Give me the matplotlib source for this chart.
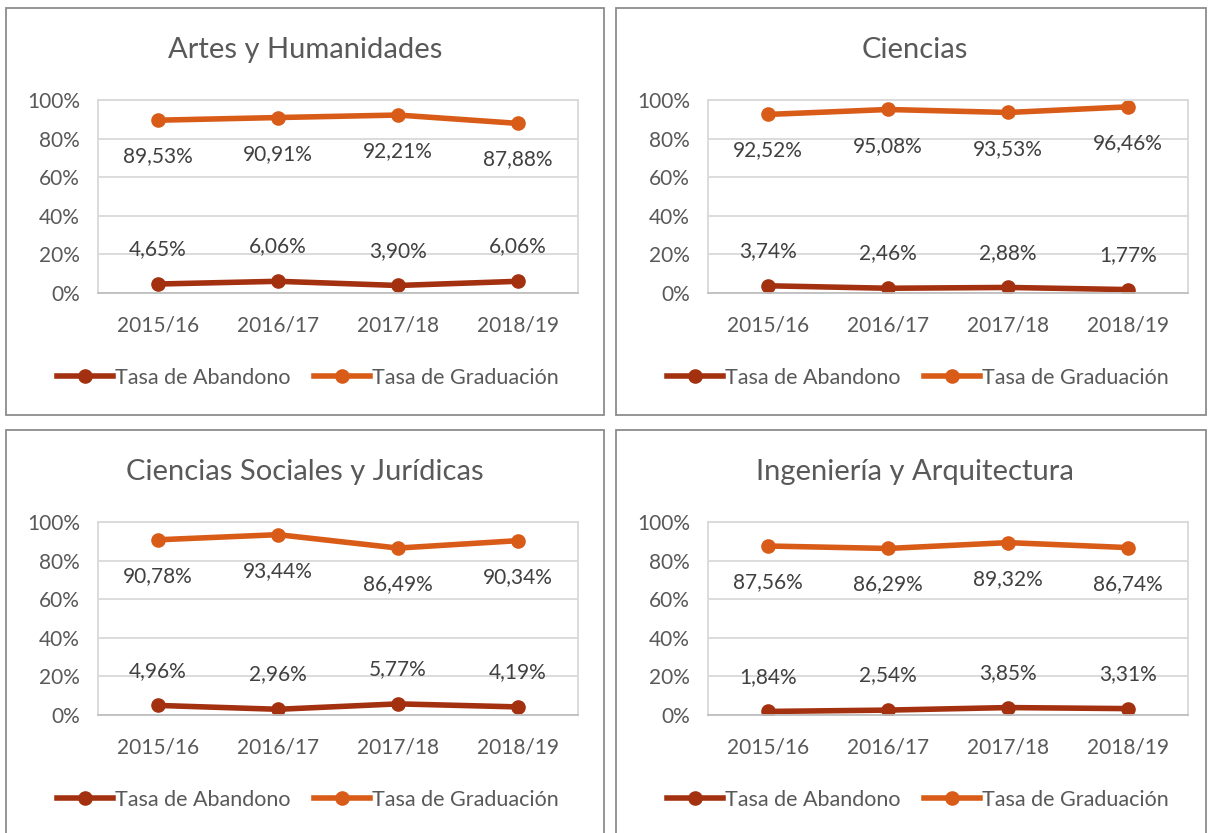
import matplotlib.pyplot as plt
from matplotlib.patches import Rectangle

plt.rcParams['font.family'] = ['Lato', 'DejaVu Sans']

years = ["2015/16", "2016/17", "2017/18", "2018/19"]
titles = ["Artes y Humanidades", "Ciencias",
          "Ciencias Sociales y Jurídicas", "Ingeniería y Arquitectura"]
abandono = [
    [4.65, 6.06, 3.90, 6.06],
    [3.74, 2.46, 2.88, 1.77],
    [4.96, 2.96, 5.77, 4.19],
    [1.84, 2.54, 3.85, 3.31],
]
graduacion = [
    [89.53, 90.91, 92.21, 87.88],
    [92.52, 95.08, 93.53, 96.46],
    [90.78, 93.44, 86.49, 90.34],
    [87.56, 86.29, 89.32, 86.74],
]

C_AB = '#A3300F'
C_GR = '#D95B18'
TXT = '#595959'

W, H = 1208, 833
fig = plt.figure(figsize=(W / 100, H / 100), dpi=100)

# panel origins in pixels (left, top)
offsets = [(0, 0), (610, 0), (0, 422), (610, 422)]

def fx(px):
    return px / W

def fy(py):
    return 1 - py / H

for i, (dx, dy) in enumerate(offsets):
    # panel border
    bx0, bx1 = 6 + dx, min(604 + dx, W - 2)
    by0, by1 = 8 + dy, min(415 + dy, H + 5)
    fig.patches.append(Rectangle((fx(bx0), fy(by1)), fx(bx1) - fx(bx0), fy(by0) - fy(by1),
                                 transform=fig.transFigure, fill=False,
                                 edgecolor='#8C8C8C', linewidth=1.3))
    # plot area
    px0, px1 = 98 + dx, 578 + dx
    py0, py1 = 100 + dy, 293 + dy
    ax = fig.add_axes([fx(px0), fy(py1), fx(px1) - fx(px0), fy(py0) - fy(py1)])
    x = range(len(years))
    ax.plot(x, abandono[i], color=C_AB, lw=4, marker='o', ms=9.5, label='Tasa de Abandono')
    ax.plot(x, graduacion[i], color=C_GR, lw=4, marker='o', ms=9.5, label='Tasa de Graduación')
    for xi, v in zip(x, abandono[i]):
        ax.annotate(f"{v:.2f}%".replace('.', ','), (xi, v), xytext=(0, 25),
                    textcoords='offset points', ha='center', va='center',
                    fontsize=15, color='#404040')
    for xi, v in zip(x, graduacion[i]):
        ax.annotate(f"{v:.2f}%".replace('.', ','), (xi, v), xytext=(0, -26),
                    textcoords='offset points', ha='center', va='center',
                    fontsize=15, color='#404040')
    ax.set_xlim(-0.5, 3.5)
    ax.set_ylim(0, 100)
    ax.set_yticks([0, 20, 40, 60, 80, 100])
    ax.set_yticklabels([f"{t}%" for t in range(0, 101, 20)])
    ax.set_xticks(list(x))
    ax.set_xticklabels(years)
    ax.tick_params(length=0, labelsize=15, colors=TXT)
    ax.tick_params(axis='x', pad=16)
    ax.tick_params(axis='y', pad=13)
    ax.grid(axis='y', color='#D9D9D9', lw=1.3)
    ax.set_axisbelow(True)
    for s in ax.spines.values():
        s.set_color('#D9D9D9')
        s.set_linewidth(1.3)
    ax.spines['bottom'].set_color('#BFBFBF')
    fig.text(fx((bx0 + 604 + dx) / 2), fy(50 + dy), titles[i], ha='center', va='center',
             fontsize=21, color=TXT)
    ax.legend(loc='center', bbox_to_anchor=(fx(308 + dx), fy(378 + dy)),
              bbox_transform=fig.transFigure, ncol=2, frameon=False,
              fontsize=15.5, labelcolor=TXT, handlelength=2.6, handletextpad=0.1,
              columnspacing=1.1)

fig.savefig('out.png', dpi=100, facecolor='white')
